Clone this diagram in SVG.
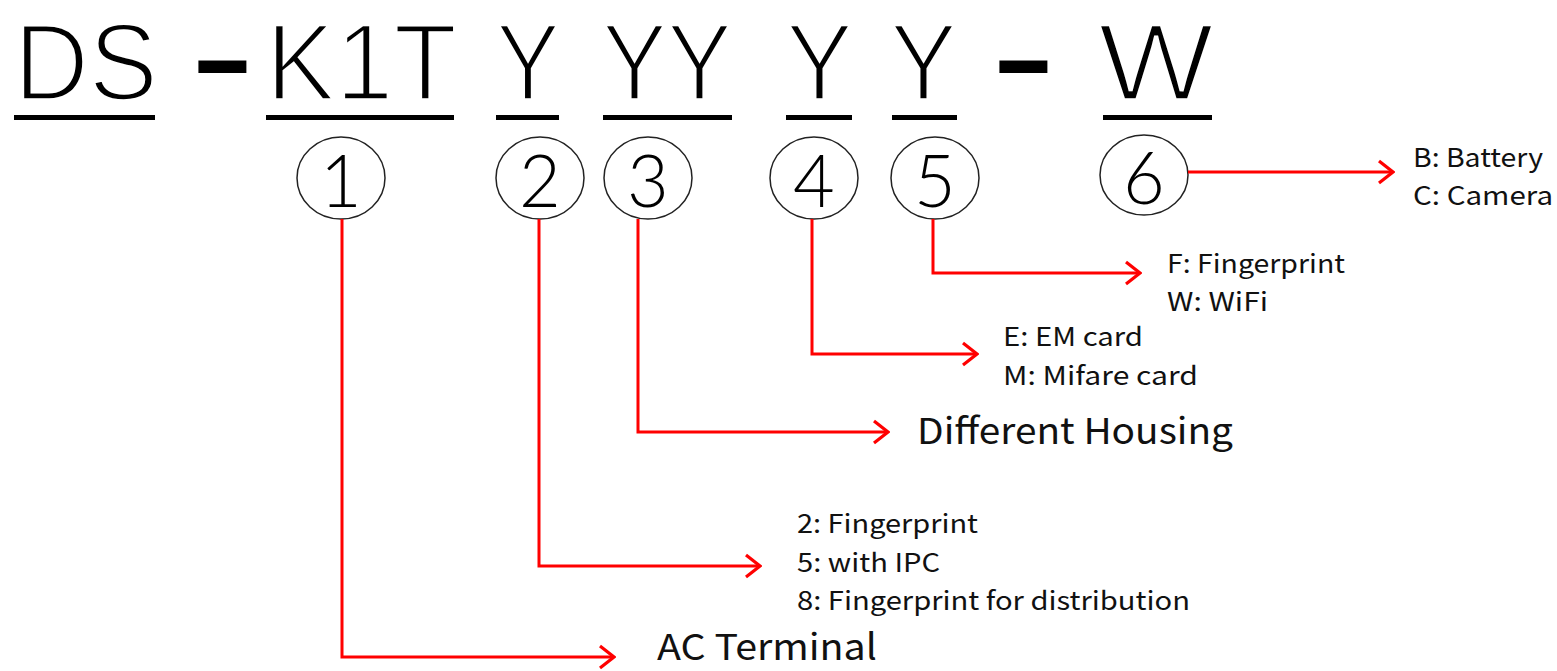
<svg xmlns="http://www.w3.org/2000/svg" width="1557" height="671" viewBox="0 0 1557 671">
<style>
.title{font-family:"Liberation Sans",Arial,sans-serif;font-weight:normal;font-size:109px;fill:#000;stroke:#fff;stroke-width:3.5px;paint-order:fill stroke}
.dash{font-family:"Liberation Sans",Arial,sans-serif;font-weight:bold;font-size:103px;fill:#000}
.ul{fill:#000}
.circ{fill:none;stroke:#222;stroke-width:1.5}
.num{font-family:Lato,"Noto Sans","Liberation Sans",sans-serif;font-weight:300;font-size:72px;fill:#000;text-anchor:middle}
.lbl{font-family:"Noto Sans CJK SC","Noto Sans","Liberation Sans",sans-serif;font-size:26px;fill:#111}
.big{font-family:"Noto Sans CJK SC","Noto Sans","Liberation Sans",sans-serif;font-size:36px;fill:#111}
.conn{fill:none;stroke:#ff0000;stroke-width:3;marker-end:url(#arr)}
</style>
<defs>
<marker id="arr" markerUnits="userSpaceOnUse" viewBox="0 0 20 26" refX="18" refY="13" markerWidth="20" markerHeight="26" orient="auto">
<path d="M4,2 L18,13 L4,24" fill="none" stroke="#ff0000" stroke-width="3.2"/>
</marker>
</defs>
<g id="title">
<text class="title" x="14" y="100" textLength="144" lengthAdjust="spacingAndGlyphs">DS</text>
<text class="dash" x="191" y="94" textLength="63" lengthAdjust="spacingAndGlyphs">-</text>
<text class="title" x="266" y="100" textLength="191" lengthAdjust="spacingAndGlyphs">K1T</text>
<text class="title" x="496" y="100" textLength="64" lengthAdjust="spacingAndGlyphs">Y</text>
<text class="title" x="602" y="100" textLength="130" lengthAdjust="spacingAndGlyphs">YY</text>
<text class="title" x="786" y="100" textLength="67" lengthAdjust="spacingAndGlyphs">Y</text>
<text class="title" x="890" y="100" textLength="67" lengthAdjust="spacingAndGlyphs">Y</text>
<text class="dash" x="992" y="94" textLength="63" lengthAdjust="spacingAndGlyphs">-</text>
<text class="title" x="1098" y="100" textLength="116" lengthAdjust="spacingAndGlyphs">W</text>
<rect class="ul" x="14" y="115" width="141" height="5"/>
<rect class="ul" x="266" y="115" width="188" height="5"/>
<rect class="ul" x="496" y="115" width="63" height="5"/>
<rect class="ul" x="603" y="115" width="129" height="5"/>
<rect class="ul" x="786" y="115" width="66" height="5"/>
<rect class="ul" x="892" y="115" width="65" height="5"/>
<rect class="ul" x="1103" y="115" width="109" height="5"/>
</g>
<g id="n1"><ellipse class="circ" cx="341" cy="178" rx="44" ry="41"/><text class="num" x="341" y="207">1</text></g>
<g id="n2"><ellipse class="circ" cx="540" cy="178" rx="44" ry="41"/><text class="num" x="540" y="207">2</text></g>
<g id="n3"><ellipse class="circ" cx="648" cy="178" rx="44" ry="41"/><text class="num" x="648" y="207">3</text></g>
<g id="n4"><ellipse class="circ" cx="814" cy="178" rx="44" ry="41"/><text class="num" x="814" y="207">4</text></g>
<g id="n5"><ellipse class="circ" cx="935" cy="178" rx="44" ry="41"/><text class="num" x="935" y="207">5</text></g>
<g id="n6"><ellipse class="circ" cx="1144" cy="175" rx="44" ry="40"/><text class="num" x="1144" y="204">6</text></g>
<g id="connectors">
<polyline class="conn" points="342,219 342,657 614,657"/>
<polyline class="conn" points="539,219 539,566 760,566"/>
<polyline class="conn" points="638,219 638,432 888,432"/>
<polyline class="conn" points="812,219 812,354 977,354"/>
<polyline class="conn" points="933,219 933,273 1140,273"/>
<polyline class="conn" points="1188,172 1393,172"/>
</g>
<g id="l1"><text class="big" x="657" y="660" textLength="220" lengthAdjust="spacingAndGlyphs">AC Terminal</text></g>
<g id="l2">
<text class="lbl" x="797" y="533" textLength="181" lengthAdjust="spacingAndGlyphs">2: Fingerprint</text>
<text class="lbl" x="797" y="572" textLength="143" lengthAdjust="spacingAndGlyphs">5: with IPC</text>
<text class="lbl" x="797" y="610" textLength="393" lengthAdjust="spacingAndGlyphs">8: Fingerprint for distribution</text>
</g>
<g id="l3"><text class="big" x="917" y="444" textLength="316" lengthAdjust="spacingAndGlyphs">Different Housing</text></g>
<g id="l4">
<text class="lbl" x="1003" y="346" textLength="140" lengthAdjust="spacingAndGlyphs">E: EM card</text>
<text class="lbl" x="1003" y="385" textLength="195" lengthAdjust="spacingAndGlyphs">M: Mifare card</text>
</g>
<g id="l5">
<text class="lbl" x="1167" y="273" textLength="178" lengthAdjust="spacingAndGlyphs">F: Fingerprint</text>
<text class="lbl" x="1167" y="311" textLength="101" lengthAdjust="spacingAndGlyphs">W: WiFi</text>
</g>
<g id="l6">
<text class="lbl" x="1413" y="167" textLength="130" lengthAdjust="spacingAndGlyphs">B: Battery</text>
<text class="lbl" x="1413" y="205" textLength="140" lengthAdjust="spacingAndGlyphs">C: Camera</text>
</g>
</svg>
